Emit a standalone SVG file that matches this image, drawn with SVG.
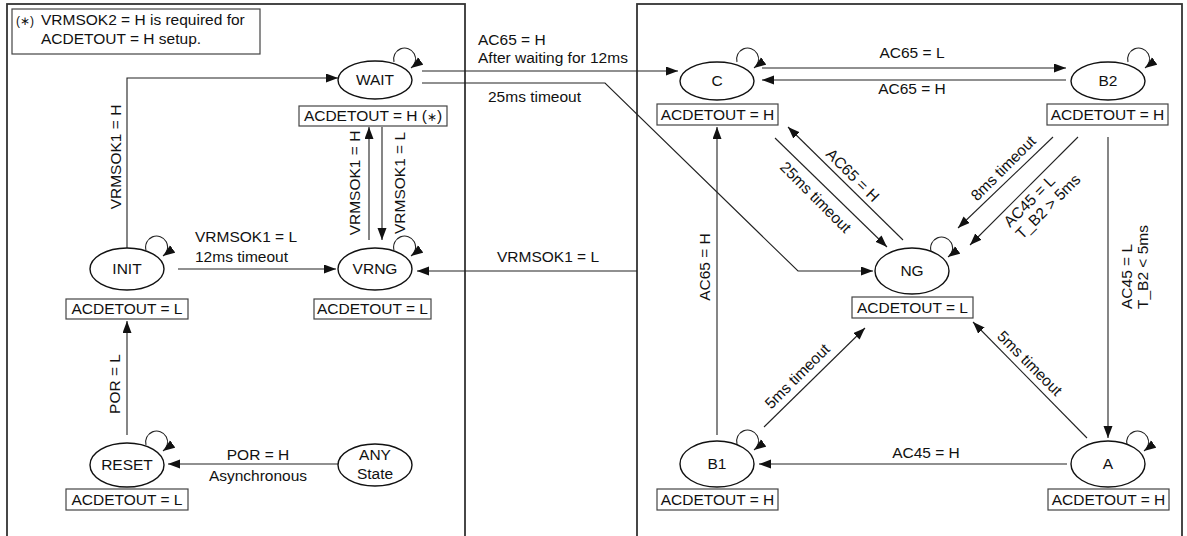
<svg xmlns="http://www.w3.org/2000/svg" width="1187" height="536" viewBox="0 0 1187 536">
<defs>
<marker id="ah" markerUnits="userSpaceOnUse" markerWidth="14" markerHeight="10" refX="12" refY="4.5" orient="auto">
<path d="M0,0 L12,4.5 L0,9 z" fill="#111"/>
</marker>
<style>
text{font-family:"Liberation Sans",Arial,sans-serif;font-size:15.5px;fill:#111}
.m{text-anchor:middle}
.panel{fill:none;stroke:#333;stroke-width:1.8}
.st{fill:#fff;stroke:#111;stroke-width:1.4}
.box{fill:#fff;stroke:#444;stroke-width:1.2}
.c{fill:none;stroke:#222;stroke-width:1.1;marker-end:url(#ah)}
</style>
</defs>
<rect width="1187" height="536" fill="#fff"/>
<rect class="panel" x="7" y="4" width="458" height="545"/>
<rect class="panel" x="637" y="4" width="545" height="545"/>
<g id="note">
<rect class="box" x="12" y="9" width="248" height="45"/>
<text x="16" y="25"><tspan font-size="12">(∗)</tspan></text>
<text x="41" y="25">VRMSOK2 = H is required for</text>
<text x="41" y="44">ACDETOUT = H setup.</text>
</g>
<g id="connectors">
<path class="c" d="M127,249 V78 H338"/>
<path class="c" d="M178,269 H336"/>
<path class="c" d="M127,435 V321"/>
<path class="c" d="M338,464 H168"/>
<path class="c" d="M369,240 V127"/>
<path class="c" d="M382,127 V240"/>
<path class="c" d="M637,271 H417"/>
<path class="c" d="M422,71 H678"/>
<path class="c" d="M422,83 H605 L798,271 H873"/>
<path class="c" d="M762,68 H1066"/>
<path class="c" d="M1066,80 H762"/>
<path class="c" d="M775,138 L887,247"/>
<path class="c" d="M903,240 L788,127"/>
<path class="c" d="M1053,137 L958,228"/>
<path class="c" d="M1078,137 L970,245"/>
<path class="c" d="M1108,137 V438"/>
<path class="c" d="M1087,438 L973,322"/>
<path class="c" d="M1067,464 H759"/>
<path class="c" d="M764,427 L865,328"/>
<path class="c" d="M717,435 V127"/>
<path class="c" d="M394,62 A11,11 0 1 1 411,68"/>
<path class="c" d="M146,250 A11,11 0 1 1 163,256"/>
<path class="c" d="M394,250 A11,11 0 1 1 411,256"/>
<path class="c" d="M146,445 A11,11 0 1 1 163,451"/>
<path class="c" d="M737,62 A11,11 0 1 1 754,68"/>
<path class="c" d="M1128,62 A11,11 0 1 1 1145,68"/>
<path class="c" d="M931,251 A11,11 0 1 1 948,257"/>
<path class="c" d="M737,444 A11,11 0 1 1 754,450"/>
<path class="c" d="M1127,445 A11,11 0 1 1 1144,451"/>
<text transform="translate(121,157) rotate(-90)" class="m">VRMSOK1 = H</text>
<text x="195" y="242">VRMSOK1 = L</text>
<text x="195" y="262">12ms timeout</text>
<text transform="translate(120,384) rotate(-90)" class="m">POR = L</text>
<text x="258" y="460" class="m">POR = H</text>
<text x="258" y="481" class="m">Asynchronous</text>
<text transform="translate(360,183) rotate(-90)" class="m">VRMSOK1 = H</text>
<text transform="translate(405,183) rotate(-90)" class="m">VRMSOK1 = L</text>
<text x="548" y="262" class="m">VRMSOK1 = L</text>
<text x="478" y="45">AC65 = H</text>
<text x="478" y="63">After waiting for 12ms</text>
<text x="488" y="102">25ms timeout</text>
<text x="912" y="58" class="m">AC65 = L</text>
<text x="912" y="94" class="m">AC65 = H</text>
<text transform="translate(812,201) rotate(45)" class="m">25ms timeout</text>
<text transform="translate(849,179) rotate(45)" class="m">AC65 = H</text>
<text transform="translate(1007,172) rotate(-45)" class="m">8ms timeout</text>
<text transform="translate(1010,228) rotate(-45)">AC45 = L</text>
<text transform="translate(1022,240) rotate(-45)">T_B2 &gt; 5ms</text>
<text transform="translate(1132,309) rotate(-90)">AC45 = L</text>
<text transform="translate(1148,309) rotate(-90)">T_B2 &lt; 5ms</text>
<text transform="translate(710,267) rotate(-90)" class="m">AC65 = H</text>
<text transform="translate(1026,367) rotate(45)" class="m">5ms timeout</text>
<text transform="translate(801,380) rotate(-45)" class="m">5ms timeout</text>
<text x="926" y="458" class="m">AC45 = H</text>
</g>
<g id="WAIT">
<ellipse class="st" cx="375" cy="80" rx="37" ry="19"/>
<text x="375" y="85" class="m">WAIT</text>
<rect class="box" x="299" y="106" width="148" height="20"/>
<text x="373" y="121" class="m">ACDETOUT = H (<tspan font-size="12">∗</tspan>)</text>
</g>
<g id="INIT">
<ellipse class="st" cx="127" cy="269" rx="37" ry="21"/>
<text x="127" y="274" class="m">INIT</text>
<rect class="box" x="66" y="299" width="122" height="20"/>
<text x="127" y="314" class="m">ACDETOUT = L</text>
</g>
<g id="VRNG">
<ellipse class="st" cx="375" cy="269" rx="37" ry="21"/>
<text x="375" y="274" class="m">VRNG</text>
<rect class="box" x="314" y="299" width="117" height="20"/>
<text x="372.5" y="314" class="m">ACDETOUT = L</text>
</g>
<g id="RESET">
<ellipse class="st" cx="127" cy="465" rx="37" ry="22"/>
<text x="127" y="470" class="m">RESET</text>
<rect class="box" x="66" y="489" width="122" height="21"/>
<text x="127" y="505" class="m">ACDETOUT = L</text>
</g>
<g id="ANY">
<ellipse class="st" cx="375" cy="465" rx="37" ry="21"/>
<text x="375" y="460" class="m">ANY</text>
<text x="375" y="479" class="m">State</text>
</g>
<g id="C">
<ellipse class="st" cx="717" cy="81" rx="37" ry="19"/>
<text x="717" y="86" class="m">C</text>
<rect class="box" x="657" y="104" width="121" height="21"/>
<text x="717.5" y="120" class="m">ACDETOUT = H</text>
</g>
<g id="B2">
<ellipse class="st" cx="1108" cy="81" rx="37" ry="19"/>
<text x="1108" y="86" class="m">B2</text>
<rect class="box" x="1047" y="104" width="121" height="21"/>
<text x="1107.5" y="120" class="m">ACDETOUT = H</text>
</g>
<g id="NG">
<ellipse class="st" cx="912" cy="271" rx="37" ry="23"/>
<text x="912" y="276" class="m">NG</text>
<rect class="box" x="852" y="297" width="121" height="21"/>
<text x="912.5" y="313" class="m">ACDETOUT = L</text>
</g>
<g id="B1">
<ellipse class="st" cx="717" cy="464" rx="37" ry="23"/>
<text x="717" y="469" class="m">B1</text>
<rect class="box" x="657" y="489" width="121" height="21"/>
<text x="717.5" y="505" class="m">ACDETOUT = H</text>
</g>
<g id="A">
<ellipse class="st" cx="1108" cy="464" rx="37" ry="23"/>
<text x="1108" y="469" class="m">A</text>
<rect class="box" x="1048" y="489" width="121" height="21"/>
<text x="1108.5" y="505" class="m">ACDETOUT = H</text>
</g>
</svg>
